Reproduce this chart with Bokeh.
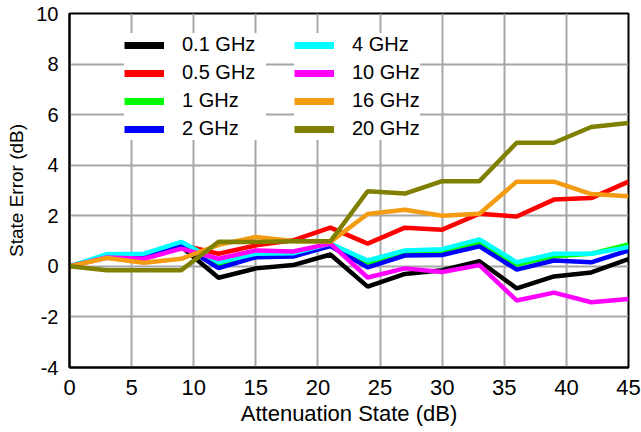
from bokeh.plotting import figure
from bokeh.models import Range1d, FixedTicker, Legend, LegendItem, ColumnDataSource
from bokeh.embed import file_html
from bokeh.resources import INLINE

# ---- data -------------------------------------------------------------
atten_state = [0, 3, 6, 9, 12, 15, 18, 21, 24, 27, 30, 33, 36, 39, 42, 45]

err_0p1ghz = [0, 0.40, 0.35, 0.78, -0.45, -0.08, 0.05, 0.47, -0.80, -0.30, -0.15, 0.20, -0.87, -0.40, -0.24, 0.29]
err_0p5ghz = [0, 0.40, 0.35, 0.85, 0.50, 0.83, 1.03, 1.53, 0.90, 1.53, 1.45, 2.08, 1.97, 2.64, 2.70, 3.35]
err_1ghz = [0, 0.42, 0.40, 0.80, 0.05, 0.45, 0.45, 0.85, 0.13, 0.55, 0.58, 0.94, 0.07, 0.40, 0.50, 0.87]
err_2ghz = [0, 0.40, 0.38, 0.85, -0.07, 0.36, 0.39, 0.80, -0.04, 0.43, 0.45, 0.79, -0.13, 0.23, 0.16, 0.63]
err_4ghz = [0, 0.48, 0.50, 0.97, 0.17, 0.50, 0.52, 0.90, 0.23, 0.63, 0.68, 1.07, 0.16, 0.50, 0.50, 0.76]
err_10ghz = [0, 0.35, 0.30, 0.70, 0.30, 0.63, 0.59, 0.90, -0.44, -0.08, -0.22, 0.05, -1.35, -1.04, -1.42, -1.29]
err_16ghz = [0, 0.33, 0.14, 0.30, 0.85, 1.16, 1.00, 0.97, 2.07, 2.24, 2.00, 2.08, 3.35, 3.35, 2.86, 2.77]
err_20ghz = [0, -0.15, -0.15, -0.15, 0.97, 0.96, 0.99, 0.99, 2.97, 2.88, 3.37, 3.37, 4.89, 4.89, 5.51, 5.67]

series_labels = ["0.1 GHz", "0.5 GHz", "1 GHz", "2 GHz", "4 GHz", "10 GHz", "16 GHz", "20 GHz"]
series_values = [err_0p1ghz, err_0p5ghz, err_1ghz, err_2ghz, err_4ghz, err_10ghz, err_16ghz, err_20ghz]

x_ticks = [0, 5, 10, 15, 20, 25, 30, 35, 40, 45]
y_ticks = [-4, -2, 0, 2, 4, 6, 8, 10]
x_title = "Attenuation State (dB)"
y_title = "State Error (dB)"

# ---- styles -----------------------------------------------------------
series_colors = ["#000000", "#ff0000", "#00ff00", "#0000ff", "#00ffff", "#ff00ff", "#f39c12", "#808000"]
FONT = "Liberation Sans"

p = figure(width=641, height=432, output_backend="svg", toolbar_location=None,
           x_range=Range1d(x_ticks[0], x_ticks[-1]), y_range=Range1d(y_ticks[0], y_ticks[-1]),
           min_border_left=69, min_border_right=13, min_border_top=13, min_border_bottom=65)

p.background_fill_color = "white"
p.border_fill_color = "white"
p.outline_line_color = "black"
p.outline_line_width = 2
p.outline_line_alpha = 1.0

p.xaxis.ticker = FixedTicker(ticks=x_ticks)
p.yaxis.ticker = FixedTicker(ticks=y_ticks)
p.yaxis.major_label_overrides = {t: str(t) for t in y_ticks}

for g in (p.xgrid, p.ygrid):
    g.grid_line_color = "#a6a6a6"
    g.grid_line_width = 2
    g.grid_line_alpha = 1.0

for ax in (p.xaxis, p.yaxis):
    ax.axis_line_color = "black"
    ax.axis_line_width = 2
    ax.major_tick_out = 0
    ax.major_tick_in = 0
    ax.minor_tick_out = 0
    ax.minor_tick_in = 0
    ax.major_label_text_font = FONT
    ax.major_label_text_color = "black"
    ax.axis_label_text_font = FONT
    ax.axis_label_text_font_style = "normal"
    ax.axis_label_text_color = "black"

p.xaxis.axis_label = x_title
p.xaxis.major_label_text_font_size = "22px"
p.xaxis.major_label_standoff = 12
p.xaxis.axis_label_text_font_size = "22px"
p.xaxis.axis_label_standoff = 3

p.yaxis.axis_label = y_title
p.yaxis.major_label_text_font_size = "20px"
p.yaxis.major_label_standoff = 11
p.yaxis.axis_label_text_font_size = "19px"
p.yaxis.axis_label_standoff = 6

legend_renderers = []
for vals, col in zip(series_values, series_colors):
    src = ColumnDataSource(data=dict(x=atten_state, y=vals))
    p.line("x", "y", source=src, line_color=col, line_width=4.5)
    # legend-only twin with a thicker key line (hidden in the plot area)
    legend_renderers.append(p.line("x", "y", source=src, line_color=col, line_width=7, visible=False))

items = [LegendItem(label=lab, renderers=[r]) for lab, r in zip(series_labels, legend_renderers)]


def make_legend(its, loc, lw):
    leg = Legend(items=its, location=loc)
    leg.background_fill_color = "white"
    leg.background_fill_alpha = 1.0
    leg.border_line_color = None
    leg.label_text_font = FONT
    leg.label_text_font_size = "20px"
    leg.label_text_color = "black"
    leg.glyph_width = 40
    leg.glyph_height = 20
    leg.label_height = 20
    leg.label_width = lw
    leg.label_standoff = 18
    leg.spacing = 5
    leg.padding = 14
    leg.margin = 0
    leg.click_policy = "none"
    return leg


p.add_layout(make_legend(items[:4], (55, 227), 84), "center")
p.add_layout(make_legend(items[4:], (225, 227), 20), "center")

open("out.html", "w").write(file_html(p, INLINE))
